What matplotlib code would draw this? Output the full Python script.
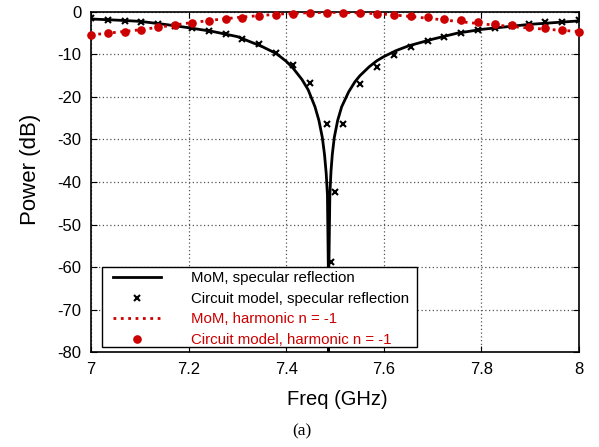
import numpy as np
import matplotlib
matplotlib.use('Agg')
import matplotlib.pyplot as plt
from matplotlib.patches import Rectangle

plt.rcParams['font.family'] = ['Liberation Sans', 'DejaVu Sans']
plt.rcParams['axes.unicode_minus'] = False

# MoM, specular reflection (solid black)
mom_spec_f = [7.0, 7.05, 7.1, 7.15, 7.2, 7.25, 7.3, 7.35, 7.38, 7.4, 7.414,
              7.4324, 7.445, 7.459, 7.467, 7.474, 7.4785, 7.482, 7.4845,
              7.4863, 7.4868, 7.4875, 7.4895, 7.4918, 7.4945, 7.4986, 7.5055,
              7.5137, 7.528, 7.541, 7.551, 7.57, 7.5855, 7.6, 7.625, 7.65,
              7.7, 7.75, 7.8, 7.85, 7.9, 7.95, 8.0]
mom_spec_db = [-1.65, -1.9, -2.2, -2.9, -3.7, -4.6, -5.8, -8.1, -9.8, -11.6,
               -13.2, -15.9, -18.3, -22.3, -25.5, -29.5, -33.5, -38.0, -43.0,
               -60.0, -80.0, -60.0, -43.0, -37.5, -33.5, -29.5, -25.5, -22.3,
               -18.8, -16.4, -15.0, -12.9, -11.5, -10.5, -9.1, -8.0, -6.4,
               -5.0, -4.1, -3.5, -2.9, -2.5, -2.1]

# circuit model, specular reflection (crosses)
cm_spec_f = list(7 + np.arange(30) / 29) + [7.4912, 7.5]
cm_spec_db = [-1.5, -1.9, -2.1, -2.4, -2.8, -3.2, -3.7, -4.5, -5.2, -6.4,
              -7.6, -9.7, -12.5, -16.8, -26.4, -26.4, -16.9, -12.9, -10.1,
              -8.2, -6.9, -5.8, -5.0, -4.3, -3.8, -3.4, -2.8, -2.4, -2.35,
              -2.0, -58.9, -42.3]

# MoM, harmonic n = -1 (red dotted)
mom_harm_f = [7.0, 7.05, 7.1, 7.15, 7.2, 7.25, 7.3, 7.35, 7.4, 7.45, 7.5,
              7.55, 7.6, 7.65, 7.7, 7.75, 7.8, 7.85, 7.9, 7.95, 8.0]
mom_harm_db = [-5.4, -4.8, -4.2, -3.4, -2.6, -1.9, -1.3, -0.8, -0.4, -0.15,
               -0.1, -0.2, -0.5, -1.0, -1.6, -2.2, -2.8, -3.3, -3.8, -4.2,
               -4.6]

# circuit model, harmonic n = -1 (red dots)
cm_harm_f = list(7 + np.arange(30) / 29)
cm_harm_db = [-5.4, -5.0, -4.6, -4.2, -3.6, -3.1, -2.6, -2.2, -1.7, -1.3,
              -0.9, -0.6, -0.4, -0.2, -0.15, -0.15, -0.2, -0.4, -0.6, -0.9,
              -1.25, -1.6, -2.0, -2.35, -2.75, -3.1, -3.5, -3.8, -4.2, -4.6]

red = '#cc0000'

fig = plt.figure(figsize=(5.99, 4.47), dpi=100)
ax = fig.add_axes([0.1519, 0.2125, 0.8147, 0.7607])

ax.plot(mom_spec_f, mom_spec_db, color='black', lw=2, label='MoM, specular reflection', zorder=3)
ax.plot(cm_spec_f, cm_spec_db, 'x', color='black', ms=4.5, mew=1.5,
        label='Circuit model, specular reflection', zorder=4)
ax.plot(mom_harm_f, mom_harm_db, ':', color=red, lw=2, label='MoM, harmonic n = -1', zorder=3)
ax.plot(cm_harm_f, cm_harm_db, 'o', color=red, ms=5.2,
        label='Circuit model, harmonic n = -1', zorder=5, clip_on=False)

ax.set_xlim(7, 8)
ax.set_ylim(-80, 0)
ax.set_xticks(np.arange(7, 8.01, 0.2))
ax.set_xticklabels(['7', '7.2', '7.4', '7.6', '7.8', '8'])
ax.set_yticks(np.arange(-80, 1, 10))
ax.tick_params(direction='in', top=True, right=True, labelsize=12, length=4, pad=7)
ax.grid(True, linestyle=(0, (1, 2)), color='#555555', lw=0.9)
for s in ax.spines.values():
    s.set_linewidth(1.2)

ax.set_xlabel('Freq (GHz)', fontsize=14.5)
ax.xaxis.set_label_coords(0.505, -0.113)
ax.set_ylabel('Power (dB)', fontsize=16)
ax.yaxis.set_label_coords(-0.1025, 0.538)

# legend box drawn separately so the padding matches
box = Rectangle((0.0232, 0.0156), 0.6442, 0.2353, transform=ax.transAxes,
                facecolor='white', edgecolor='black', lw=1.0, zorder=9)
ax.add_patch(box)
leg = ax.legend(loc='upper left', bbox_to_anchor=(0.0457, 0.237), borderaxespad=0,
                borderpad=0, fontsize=10.8, handlelength=3.2, handletextpad=1.96,
                labelspacing=0.43, frameon=False,
                labelcolor=['black', 'black', red, red])
leg.set_zorder(10)

fig.text(0.504, 0.026, '(a)', family='Liberation Serif', fontsize=12.5, ha='center')

fig.savefig('out.png', dpi=100)
